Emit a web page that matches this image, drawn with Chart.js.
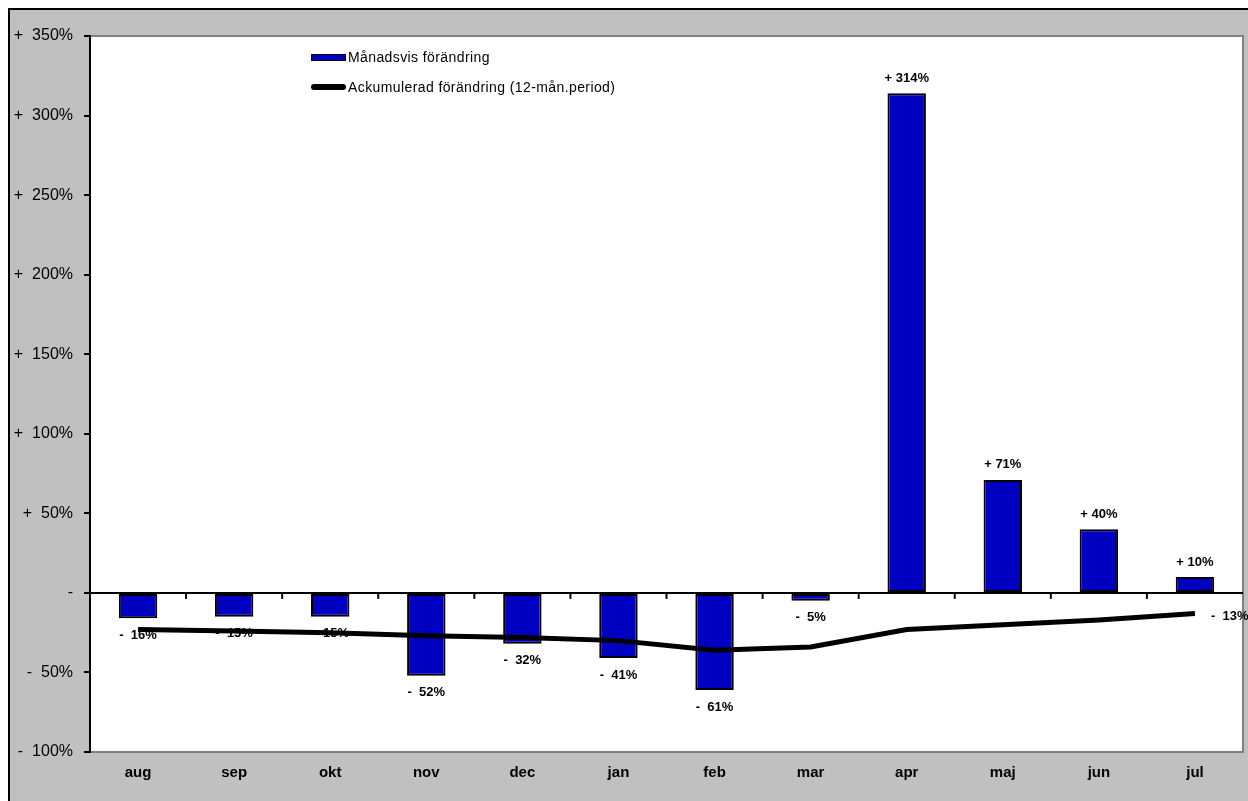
<!DOCTYPE html>
<html>
<head>
<meta charset="utf-8">
<script src="https://cdn.jsdelivr.net/npm/chart.js@4.4.0/dist/chart.umd.min.js"></script>
<style>
  body { margin: 0; background: #fff; overflow: hidden; }
  #frame { position: absolute; left: 8px; top: 8px; width: 1260px; height: 820px; border: 2px solid #000; background: #c0c0c0; }
  #wrap { position: absolute; left: 0; top: 0; width: 1248px; height: 801px; }
  #legend { position: absolute; left: 311px; top: 47px; font: 14px Arial, "Liberation Sans", sans-serif; letter-spacing: 0.4px; color: #000; }
  .row { display: flex; align-items: center; height: 20px; margin-bottom: 10px; }
  .swatch { width: 35px; margin-right: 2px; box-sizing: border-box; }
</style>
</head>
<body>
<div id="frame"></div>
<div id="wrap"><canvas id="chart"></canvas></div>
<div id="legend"></div>
<script>
// Chart data
const months = ['aug', 'sep', 'okt', 'nov', 'dec', 'jan', 'feb', 'mar', 'apr', 'maj', 'jun', 'jul'];
const monthlyChange = [-16, -15, -15, -52, -32, -41, -61, -5, 314, 71, 40, 10];
const accumulatedChange = [-23, -24, -25, -27, -28, -30, -36, -34, -23, -20, -17, -13];
const yMin = -100;
const yMax = 350;
const yStep = 50;

const barLabel = 'Månadsvis förändring';
const lineLabel = 'Ackumulerad förändring (12-mån.period)';

// Format like "+ 10%" / "-  16%"
function fmt(v) {
    if (v > 0) return '+ ' + v + '%';
    if (v < 0) return '-  ' + (-v) + '%';
    return '-';
}

function fmtAxis(v) {
    if (v > 0) return '+  ' + v + '%';
    if (v < 0) return '-  ' + (-v) + '%';
    return '-';
}

// White plot area, gray frame, tick marks on the zero line and value labels
const plotExtras = {
    id: 'plotExtras',
    beforeDraw(chart) {
        const { ctx, chartArea: a } = chart;
        ctx.save();
        ctx.fillStyle = '#fff';
        ctx.fillRect(a.left, a.top, a.right - a.left, a.bottom - a.top);
        ctx.strokeStyle = '#808080';
        ctx.lineWidth = 2;
        ctx.strokeRect(a.left, a.top, a.right - a.left, a.bottom - a.top);
        ctx.restore();
    },
    beforeDatasetsDraw(chart) {
        const ctx = chart.ctx;
        const x = chart.scales.x;
        const y0 = chart.scales.y.getPixelForValue(0);
        ctx.save();
        ctx.strokeStyle = '#000';
        ctx.lineWidth = 2;
        for (let i = 1; i < months.length; i++) {
            const px = (x.getPixelForValue(i - 1) + x.getPixelForValue(i)) / 2;
            ctx.beginPath();
            ctx.moveTo(px, y0);
            ctx.lineTo(px, y0 + 6);
            ctx.stroke();
        }
        ctx.restore();
    },
    afterDatasetDraw(chart, args) {
        // bar labels go under the line
        if (args.index !== 0) return;
        const ctx = chart.ctx;
        ctx.save();
        ctx.fillStyle = '#000';
        ctx.textAlign = 'center';
        ctx.textBaseline = 'middle';
        ctx.font = 'bold 13px Arial, "Liberation Sans", sans-serif';
        args.meta.data.forEach((bar, i) => {
            const v = monthlyChange[i];
            const dy = v < 0 ? 17 : -15;
            ctx.fillText(fmt(v), bar.x, bar.y + dy);
        });
        ctx.restore();
    },
    afterDatasetsDraw(chart) {
        const ctx = chart.ctx;
        const pts = chart.getDatasetMeta(1).data;
        const last = pts[pts.length - 1];
        ctx.save();
        ctx.font = 'bold 13px Arial, "Liberation Sans", sans-serif';
        ctx.fillStyle = '#000';
        ctx.textAlign = 'left';
        ctx.textBaseline = 'middle';
        ctx.fillText(fmt(accumulatedChange[accumulatedChange.length - 1]), last.x + 16, last.y + 3);
        ctx.restore();
    }
};

const ctx = document.getElementById('chart').getContext('2d');
new Chart(ctx, {
    type: 'bar',
    data: {
        labels: months,
        datasets: [{
            type: 'bar',
            label: barLabel,
            data: monthlyChange,
            backgroundColor: '#0000c0',
            borderColor: '#000',
            borderWidth: 2,
            borderSkipped: false,
            barPercentage: 0.4,
            categoryPercentage: 1,
            order: 2
        }, {
            type: 'line',
            label: lineLabel,
            data: accumulatedChange,
            borderColor: '#000',
            borderWidth: 5,
            pointRadius: 0,
            tension: 0,
            order: 1
        }]
    },
    options: {
        responsive: true,
        maintainAspectRatio: false,
        animation: false,
        layout: { padding: { top: 36, right: 5, left: 0, bottom: 0 } },
        plugins: {
            legend: { display: false },
            tooltip: { enabled: false }
        },
        scales: {
            x: {
                grid: { display: false, drawTicks: false },
                border: { display: false },
                ticks: {
                    color: '#000',
                    font: { family: 'Arial, "Liberation Sans", sans-serif', size: 15, weight: 'bold' },
                    padding: 12,
                    maxRotation: 0
                },
                afterFit(scale) { scale.height = 49; }
            },
            y: {
                min: yMin,
                max: yMax,
                ticks: {
                    stepSize: yStep,
                    color: '#000',
                    font: { family: 'Arial, "Liberation Sans", sans-serif', size: 16 },
                    padding: 11,
                    callback: (v) => fmtAxis(v)
                },
                grid: {
                    color: (c) => (c.tick && c.tick.value === 0 ? '#000' : 'rgba(0,0,0,0)'),
                    lineWidth: 2,
                    tickColor: '#000',
                    tickWidth: 2,
                    tickLength: 6
                },
                border: { color: '#000', width: 2 },
                afterFit(scale) { scale.width = 90; }
            }
        }
    },
    plugins: [plotExtras]
});

// Legend built from the dataset labels
const legend = document.getElementById('legend');
legend.innerHTML =
    '<div class="row"><div class="swatch" style="height:7px;background:#0000c0;border:1px solid #000"></div>' + barLabel + '</div>' +
    '<div class="row"><div class="swatch" style="height:6px;background:#000;border-radius:3px"></div>' + lineLabel + '</div>';
</script>
</body>
</html>
